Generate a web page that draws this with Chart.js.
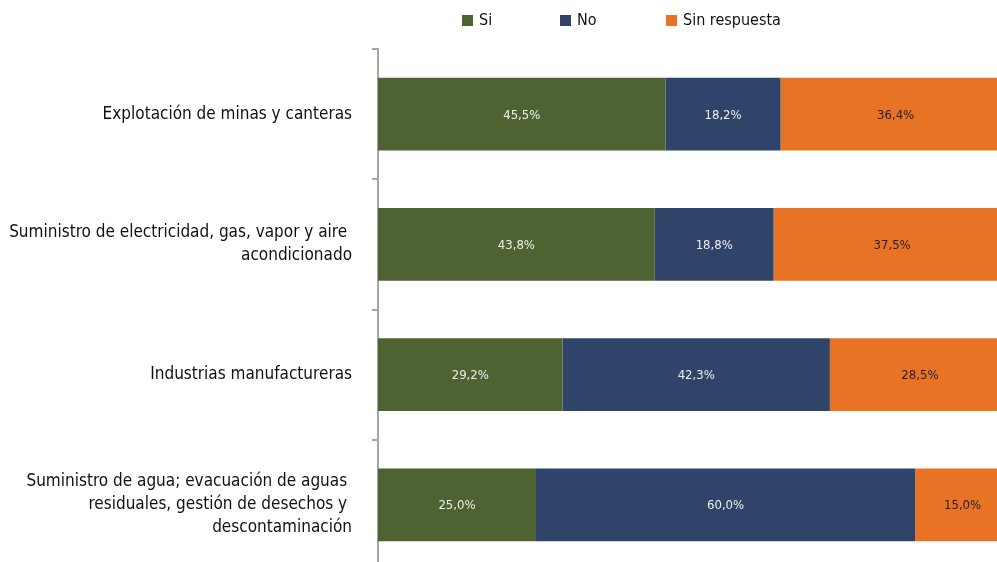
<!DOCTYPE html>
<html>
<head>
<meta charset="utf-8">
<script src="https://cdn.jsdelivr.net/npm/chart.js@4.4.0/dist/chart.umd.min.js"></script>
<style>
  html, body { margin: 0; padding: 0; background: #fff; overflow: hidden; }
  #wrap { position: relative; width: 1010px; height: 570px; }
  .legend { position: absolute; top: 10px; font: 16px "Liberation Sans Narrow", "DejaVu Sans Condensed", sans-serif; color: #111; white-space: nowrap; }
  .legend span.box { display: inline-block; width: 11px; height: 11px; margin-right: 6px; vertical-align: -1px; }
</style>
</head>
<body>
<div id="wrap">
  <canvas id="chart" width="1010" height="570"></canvas>
</div>
<script>
const categories = [
  "Explotación de minas y canteras",
  ["Suministro de electricidad, gas, vapor y aire ", "acondicionado"],
  "Industrias manufactureras",
  ["Suministro de agua; evacuación de aguas ", "residuales, gestión de desechos y ", "descontaminación"]
];
const si = [45.5, 43.8, 29.2, 25.0];
const no = [18.2, 18.8, 42.3, 60.0];
const sinRespuesta = [36.4, 37.5, 28.5, 15.0];

const seriesNames = ["Si", "No", "Sin respuesta"];
const colors = ["#4f6231", "#2f4468", "#e97325"];
const labelColors = ["#eeeeee", "#eeeeee", "#222222"];
const legendX = [462, 560, 666];

const FONT = '"Liberation Sans Narrow", "DejaVu Sans Condensed", sans-serif';

// html legend
const wrap = document.getElementById("wrap");
seriesNames.forEach((name, i) => {
  const el = document.createElement("div");
  el.className = "legend";
  el.style.left = legendX[i] + "px";
  el.innerHTML = '<span class="box" style="background:' + colors[i] + '"></span>' + name;
  wrap.appendChild(el);
});

const valueLabels = {
  id: "valueLabels",
  afterDatasetsDraw(chart) {
    const ctx = chart.ctx;
    ctx.save();
    ctx.font = "13px " + FONT;
    ctx.textAlign = "center";
    ctx.textBaseline = "middle";
    chart.data.datasets.forEach((ds, i) => {
      const meta = chart.getDatasetMeta(i);
      ctx.fillStyle = labelColors[i];
      meta.data.forEach((bar, j) => {
        const p = bar.getCenterPoint();
        ctx.fillText(ds.data[j].toFixed(1).replace(".", ",") + "%", p.x, p.y + 1);
      });
    });
    ctx.restore();
  }
};

new Chart(document.getElementById("chart"), {
  type: "bar",
  data: {
    labels: categories,
    datasets: [
      { label: seriesNames[0], data: si, backgroundColor: colors[0] },
      { label: seriesNames[1], data: no, backgroundColor: colors[1] },
      { label: seriesNames[2], data: sinRespuesta, backgroundColor: colors[2] }
    ]
  },
  options: {
    indexAxis: "y",
    responsive: false,
    animation: false,
    layout: { padding: { top: 49, right: 0, bottom: 0, left: 0 } },
    datasets: {
      bar: { categoryPercentage: 1, barPercentage: 0.56 }
    },
    scales: {
      x: {
        stacked: true,
        min: 0,
        max: 100,
        display: false
      },
      y: {
        stacked: true,
        afterFit(scale) {
          scale.width = 378;
          scale.paddingTop = 0;
          scale.paddingBottom = 0;
        },
        border: { display: true, color: "#a6a6a6", width: 2 },
        grid: {
          drawOnChartArea: false,
          drawTicks: true,
          tickLength: 6,
          color: "#a6a6a6",
          lineWidth: 2
        },
        ticks: {
          padding: 20,
          color: "#111",
          font: { family: FONT, size: 17, lineHeight: 1.35 }
        }
      }
    },
    plugins: {
      legend: { display: false },
      tooltip: { enabled: false }
    }
  },
  plugins: [valueLabels]
});
</script>
</body>
</html>
